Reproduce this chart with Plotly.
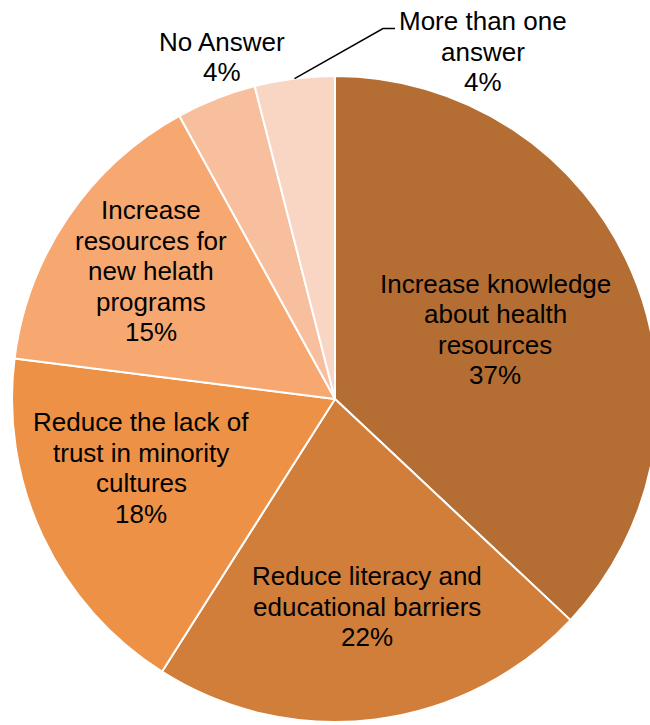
import math
import plotly.graph_objects as go

# Survey responses: how to improve access to health care
categories = [
    "Increase knowledge<br>about health<br>resources",
    "Reduce literacy and<br>educational barriers",
    "Reduce the lack of<br>trust in minority<br>cultures",
    "Increase<br>resources for<br>new helath<br>programs",
    "No Answer",
    "More than one<br>answer",
]
values = [37, 22, 18, 15, 4, 4]
colors = ["#B46D33", "#D07E3A", "#EC9146", "#F6A870", "#F8BF9E", "#F9D5C3"]

# Label placement: distance from centre (fraction of radius) and angular nudge (deg)
label_radius = [0.54, 0.65, 0.637, 0.694, 1.115, 1.168]
label_turn = [0.0, -1.5, 5.6, 0.6, 3.3, 30.3]
leader_slices = [5]  # slices whose label sits away from the slice and gets a leader line

W, H = 670, 725
PIE_TOP, PIE_BOTTOM = 76, 722  # pixel rows of the pie's vertical extent
FONT = 26
LINE_GAP = 30.5

dom_y = [(H - PIE_BOTTOM) / H, (H - PIE_TOP) / H]
R = (PIE_BOTTOM - PIE_TOP) / 2
cx_paper = 0.5
cy_paper = (dom_y[0] + dom_y[1]) / 2

fig = go.Figure(go.Pie(
    labels=[c.replace("<br>", " ") for c in categories],
    values=values,
    sort=False,
    direction="clockwise",
    rotation=0,
    marker=dict(colors=colors, line=dict(color="white", width=2)),
    textinfo="none",
    hovertemplate="%{label}: %{percent}<extra></extra>",
    domain=dict(x=[0, 1], y=dom_y),
    showlegend=False,
))

total = sum(values)
cum = 0.0
annotations = []
shapes = []


def px_to_paper(dx, dy_up):
    return cx_paper + dx / W, cy_paper + dy_up / H


for i, (name, v) in enumerate(zip(categories, values)):
    mid = (cum + v / 2) / total * 360.0
    cum += v
    theta = math.radians(mid + label_turn[i])
    r = label_radius[i] * R
    dx = r * math.sin(theta)
    dy = r * math.cos(theta)
    lines = name.split("<br>") + [f"{round(100 * v / total)}%"]
    n = len(lines)
    for j, line in enumerate(lines):
        annotations.append(dict(
            x=cx_paper, y=cy_paper, xref="paper", yref="paper",
            xshift=dx, yshift=dy + ((n - 1) / 2 - j) * LINE_GAP,
            text=line, showarrow=False, xanchor="center", yanchor="middle",
            font=dict(family="Liberation Sans, Arial, sans-serif", size=FONT, color="black"),
        ))
    if i in leader_slices:
        # leader from the slice edge to the left of the label's first line
        m = math.radians(mid)
        sx, sy = R * math.sin(m), R * math.cos(m)
        first_y = dy + (n - 1) / 2 * LINE_GAP - 7
        ex = dx - 88
        kx = ex - 12
        p0 = px_to_paper(sx, sy)
        p1 = px_to_paper(kx, first_y)
        p2 = px_to_paper(ex, first_y)
        shapes.append(dict(
            type="path", xref="paper", yref="paper",
            path=f"M {p0[0]},{p0[1]} L {p1[0]},{p1[1]} L {p2[0]},{p2[1]}",
            line=dict(color="black", width=1.5),
        ))

fig.update_layout(
    width=W, height=H,
    margin=dict(l=0, r=0, t=0, b=0),
    paper_bgcolor="white",
    plot_bgcolor="white",
    annotations=annotations,
    shapes=shapes,
)

fig.write_html(
    "out.html",
    post_script=(
        "document.documentElement.style.overflow='hidden';"
        "document.body.style.overflow='hidden';"
        "document.body.style.margin='0';"
    ),
)
